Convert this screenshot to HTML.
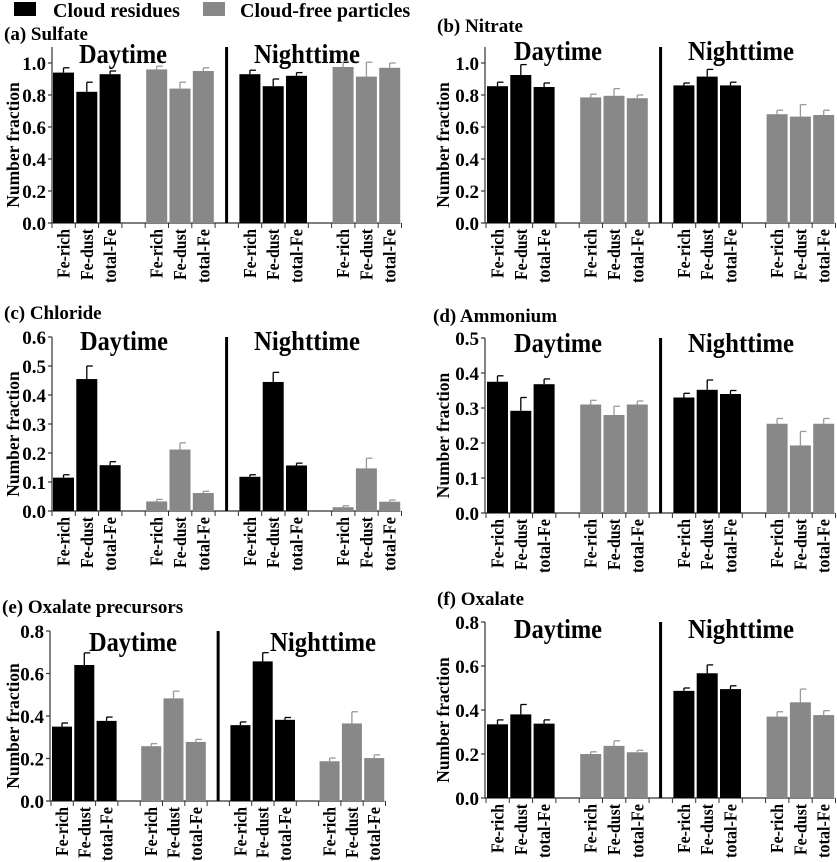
<!DOCTYPE html>
<html><head><meta charset="utf-8"><style>
html,body{margin:0;padding:0;background:#fff;}
svg{display:block;font-family:"Liberation Serif",serif;font-weight:bold;}
svg text{font-family:"Liberation Serif",serif;font-weight:bold;}
</style></head><body>
<svg id="fig" width="837" height="862" viewBox="0 0 837 862">
<g>
<rect x="14" y="2" width="22" height="14" fill="#000"/>
<text x="53" y="17" font-size="20">Cloud residues</text>
<rect x="203" y="2" width="22" height="14" fill="#888"/>
<text x="240" y="17" font-size="20">Cloud-free particles</text>
</g>
</svg>
<script>
const categories = ["Fe-rich","Fe-dust","total-Fe"];
const groupNames = ["cr-day","cf-day","cr-night","cf-night"];
const sulfateVals = [[0.94,0.82,0.93],[0.96,0.84,0.95],[0.93,0.855,0.92],[0.975,0.915,0.97]];
const sulfateErr = [[0.97,0.88,0.95],[0.98,0.88,0.97],[0.955,0.90,0.94],[1.01,1.005,1.0]];
const nitrateVals = [[0.855,0.925,0.85],[0.785,0.795,0.78],[0.86,0.915,0.86],[0.68,0.665,0.675]];
const nitrateErr = [[0.88,0.99,0.875],[0.805,0.84,0.80],[0.875,0.96,0.88],[0.705,0.74,0.705]];
const chlorideVals = [[0.115,0.455,0.158],[0.033,0.212,0.062],[0.118,0.445,0.157],[0.013,0.147,0.032]];
const chlorideErr = [[0.125,0.50,0.17],[0.04,0.235,0.068],[0.125,0.478,0.165],[0.018,0.182,0.038]];
const ammoniumVals = [[0.375,0.292,0.368],[0.31,0.28,0.31],[0.33,0.352,0.34],[0.255,0.193,0.255]];
const ammoniumErr = [[0.392,0.33,0.383],[0.322,0.305,0.32],[0.342,0.38,0.35],[0.27,0.233,0.27]];
const precursorVals = [[0.35,0.64,0.377],[0.258,0.483,0.278],[0.357,0.657,0.382],[0.187,0.365,0.202]];
const precursorErr = [[0.367,0.697,0.395],[0.27,0.517,0.29],[0.372,0.698,0.393],[0.202,0.42,0.217]];
const oxalateVals = [[0.335,0.38,0.338],[0.2,0.237,0.208],[0.487,0.567,0.495],[0.37,0.435,0.377]];
const oxalateErr = [[0.355,0.425,0.355],[0.21,0.26,0.217],[0.5,0.605,0.51],[0.392,0.495,0.397]];
const ticksA = ["0.0","0.2","0.4","0.6","0.8","1.0"];
const ticksC = ["0.0","0.1","0.2","0.3","0.4","0.5","0.6"];
const ticksD = ["0.0","0.1","0.2","0.3","0.4","0.5"];
const ticksE = ["0.0","0.2","0.4","0.6","0.8"];
const LABEL_LEN = [49, 51, 54];

const NS="http://www.w3.org/2000/svg";
const svg=document.getElementById('fig');
function mk(tag,attrs,parent,text){const e=document.createElementNS(NS,tag);for(const k in attrs)e.setAttribute(k,attrs[k]);if(text!==undefined)e.textContent=text;parent.appendChild(e);return e;}

function panel(o){
  const g=mk('g',{},svg);
  
  
  const ymaxTick=parseFloat(o.ticks[o.ticks.length-1]);
  const y=v=>o.y0-(v/ymaxTick)*(o.y0-o.yTop);
  const yAxisTop=y(o.ymax);
  const xEnd=o.xs+15*o.pitch-2;
  const t=mk('text',{x:o.tx,y:o.ty,'font-size':19},g,o.title);
  
  
  const ya=mk('line',{x1:o.ax,y1:yAxisTop,x2:o.ax,y2:o.y0,stroke:'#333','stroke-width':1.2},g);
  
  
  const xa=mk('line',{x1:o.ax,y1:o.y0,x2:xEnd,y2:o.y0,stroke:'#333','stroke-width':1.2},g);
  
  
  o.ticks.forEach(tk=>{
    const v=parseFloat(tk),yy=y(v);
    mk('line',{x1:o.ax-4,y1:yy,x2:o.ax,y2:yy,stroke:'#333','stroke-width':1.2},g);
    const tl=mk('text',{x:o.ax-6,y:yy+7,'font-size':19,'text-anchor':'end'},g,tk);
    
    
  });
  const yt=mk('text',{x:0,y:0,'font-size':17.5,'text-anchor':'middle',transform:`translate(${o.ytx},${(o.y0+yAxisTop)/2+10}) rotate(-90)`},g,'Number fraction');
  
  
  const dx=o.xs+7.45*o.pitch;
  const dv=mk('line',{x1:dx,y1:yAxisTop,x2:dx,y2:o.y0,stroke:'#000','stroke-width':3},g);
  
  
  const d1=mk('text',{x:o.dayX,y:o.labY,'font-size':27,'text-anchor':'middle',textLength:88,lengthAdjust:'spacingAndGlyphs'},g,'Daytime');
  
  
  const d2=mk('text',{x:o.nightX,y:o.labY,'font-size':27,'text-anchor':'middle',textLength:106,lengthAdjust:'spacingAndGlyphs'},g,'Nighttime');
  
  
  const bw=o.pitch-2.3;
  for(let gi=0;gi<4;gi++){
    const black=(gi%2===0);
    for(let ci=0;ci<3;ci++){
      const slot=gi*4+ci;
      const bx=o.xs+slot*o.pitch;
      const v=o.vals[gi][ci],e=o.err[gi][ci];
      const r=mk('rect',{x:bx,y:y(v),width:bw,height:o.y0-y(v),fill:black?'#000':'#888'},g);
      
      
      const cx=bx+bw/2, ec=black?'#000':'#999';
      const el=mk('line',{x1:cx,y1:y(e),x2:cx,y2:y(v),stroke:ec,'stroke-width':1.3},g);
      
      
      mk('line',{x1:cx,y1:y(e),x2:cx+6,y2:y(e),stroke:ec,'stroke-width':1.3},g);
      mk('line',{x1:bx-1,y1:o.y0,x2:bx-1,y2:o.y0+5,stroke:'#333','stroke-width':1},g);
      if(ci===2) mk('line',{x1:bx+o.pitch-1,y1:o.y0,x2:bx+o.pitch-1,y2:o.y0+5,stroke:'#333','stroke-width':1},g);
      const cl=mk('text',{x:0,y:0,'font-size':18,'text-anchor':'end',textLength:LABEL_LEN[ci],lengthAdjust:'spacingAndGlyphs',transform:`translate(${cx+6},${o.y0+6}) rotate(-90)`},g,categories[ci]);
      
      
    }
  }
}
panel({key:'sulfate',title:'(a) Sulfate',tx:4,ty:40,ax:52,xs:53,pitch:23.3,y0:223,yTop:63,ymax:1.1,ticks:ticksA,vals:sulfateVals,err:sulfateErr,ytx:19,dayX:123,nightX:307,labY:63});
panel({key:'nitrate',title:'(b) Nitrate',tx:437,ty:32,ax:485,xs:487,pitch:23.3,y0:223,yTop:63,ymax:1.1,ticks:ticksA,vals:nitrateVals,err:nitrateErr,ytx:449,dayX:558,nightX:741,labY:60});
panel({key:'chloride',title:'(c) Chloride',tx:4,ty:319,ax:52,xs:53,pitch:23.3,y0:511,yTop:337,ymax:0.6,ticks:ticksC,vals:chlorideVals,err:chlorideErr,ytx:19,dayX:124,nightX:307,labY:350});
panel({key:'ammonium',title:'(d) Ammonium',tx:433,ty:322,ax:485,xs:487,pitch:23.3,y0:513,yTop:338,ymax:0.5,ticks:ticksD,vals:ammoniumVals,err:ammoniumErr,ytx:449,dayX:558,nightX:741,labY:352});
panel({key:'oxalate-precursors',title:'(e) Oxalate precursors',tx:2,ty:613,ax:50,xs:52,pitch:22.3,y0:801,yTop:631,ymax:0.8,ticks:ticksE,vals:precursorVals,err:precursorErr,ytx:19,dayX:133,nightX:323,labY:651});
panel({key:'oxalate',title:'(f) Oxalate',tx:437,ty:605,ax:485,xs:487,pitch:23.3,y0:798,yTop:622,ymax:0.8,ticks:ticksE,vals:oxalateVals,err:oxalateErr,ytx:449,dayX:558,nightX:741,labY:638});
</script>
</body></html>
